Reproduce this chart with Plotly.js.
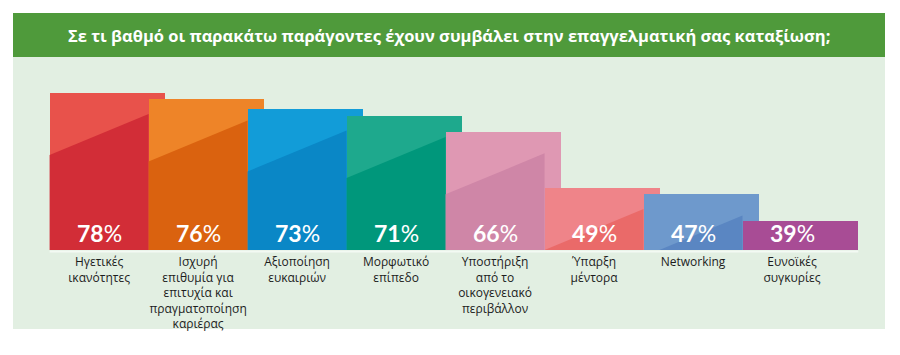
<!DOCTYPE html>
<html>
<head>
<meta charset="utf-8">
<script src="https://cdn.plot.ly/plotly-3.0.1.min.js"></script>
<style>html,body{margin:0;padding:0;background:#fff;}#chart{width:900px;height:355px;}</style>
</head>
<body>
<div id="chart"></div>
<script>
// ---- data ----
const titleText = "Σε τι βαθμό οι παρακάτω παράγοντες έχουν συμβάλει στην επαγγελματική σας καταξίωση;";
const categories = [
  "Ηγετικές<br>ικανότητες",
  "Ισχυρή<br>επιθυμία για<br>επιτυχία και<br>πραγματοποίηση<br>καριέρας",
  "Αξιοποίηση<br>ευκαιριών",
  "Μορφωτικό<br>επίπεδο",
  "Υποστήριξη<br>από το<br>οικογενειακό<br>περιβάλλον",
  "Ύπαρξη<br>μέντορα",
  "Networking",
  "Ευνοϊκές<br>συγκυρίες"
];
const values = [78, 76, 73, 71, 66, 49, 47, 39];

// ---- style ----
const lightColors = ["#E8524B", "#EE8428", "#129CD8", "#1EA98D", "#DF98B3", "#EF8489", "#6E99CC", "#A84C95"];
const darkColors  = ["#D22D37", "#DA620F", "#0A87C6", "#00977B", "#CF86A7", "#EA6A69", "#5A86C2", "#A84C95"];

const BASE = 30, YTOP = 88;
const BAR_W = 1.17;      // bar width in category units (bars overlap the next one)
const D_LEFT = 19, D_RIGHT = 6.5; // diagonal depth below the bar top (axis units)

const ML = 12, MR = 9, MT = 60, MB = 105;
const PW = 900 - ML - MR, PH = 355 - MT - MB;
const px2x = p => (p - ML) / PW;
const py2y = p => (355 - MB - p) / PH;

const idx = values.map((v, i) => i);

const traces = [];
traces.push({
  type: "bar",
  x: idx,
  y: values,
  offset: -0.5,
  width: BAR_W,
  marker: { color: lightColors, line: { width: 0 } },
  hoverinfo: "skip",
  showlegend: false
});

values.forEach((v, i) => {
  if (darkColors[i] === lightColors[i]) return;
  const xL = i - 0.5, xR = i + 0.5;
  const yL = v - D_LEFT, yR = v - D_RIGHT;
  let xs, ys;
  if (yL >= BASE) {
    xs = [xL, xL, xR, xR, xL];
    ys = [BASE, yL, yR, BASE, BASE];
  } else {
    const x0 = xL + (BASE - yL) / (yR - yL) * (xR - xL);
    xs = [x0, xR, xR, x0];
    ys = [BASE, yR, BASE, BASE];
  }
  traces.push({
    type: "scatter", mode: "lines", x: xs, y: ys,
    fill: "toself", fillcolor: darkColors[i],
    line: { width: 0, color: darkColors[i] },
    hoverinfo: "skip", showlegend: false
  });
});

const annotations = values.map((v, i) => ({
  x: i, y: BASE, xref: "x", yref: "y",
  text: "<b>" + v + "</b>%",
  showarrow: false, yanchor: "bottom", xanchor: "center", yshift: 1,
  font: { family: "Lato, 'Open Sans', sans-serif", size: 23, color: "#ffffff" }
}));
annotations.push({
  xref: "paper", yref: "paper", x: px2x(449), y: py2y(35),
  xanchor: "center", yanchor: "middle", showarrow: false,
  text: "<b>" + titleText + "</b>",
  font: { family: "'Open Sans', sans-serif", size: 16.5, color: "#ffffff" }
});

const layout = {
  width: 900, height: 355,
  margin: { l: ML, r: MR, t: MT, b: MB, pad: 0 },
  paper_bgcolor: "#ffffff",
  plot_bgcolor: "rgba(0,0,0,0)",
  showlegend: false,
  bargap: 0,
  xaxis: {
    range: [-0.88, 8.0],
    tickmode: "array", tickvals: idx, ticktext: categories,
    showgrid: false, zeroline: false, showline: false, ticks: "",
    tickangle: 0, ticklabelstandoff: 3,
    tickfont: { family: "'Open Sans', sans-serif", size: 12, color: "#1c1c1c" },
    fixedrange: true
  },
  yaxis: { range: [BASE, YTOP], visible: false, fixedrange: true },
  shapes: [
    { type: "rect", xref: "paper", yref: "paper", layer: "below",
      x0: px2x(13), x1: px2x(885), y0: py2y(329), y1: py2y(57),
      fillcolor: "#E2EFE2", line: { width: 0 } },
    { type: "rect", xref: "paper", yref: "paper", layer: "below",
      x0: px2x(13), x1: px2x(885), y0: py2y(57), y1: py2y(13),
      fillcolor: "#4F9A3B", line: { width: 0 } },
    { type: "line", xref: "x", yref: "paper", layer: "above",
      x0: -0.5, x1: 7 - 0.5 + BAR_W, y0: py2y(251.5), y1: py2y(251.5),
      line: { color: "#F3FAF3", width: 2 } }
  ],
  annotations: annotations
};

Plotly.newPlot("chart", traces, layout, { staticPlot: true, displayModeBar: false });
</script>
</body>
</html>
